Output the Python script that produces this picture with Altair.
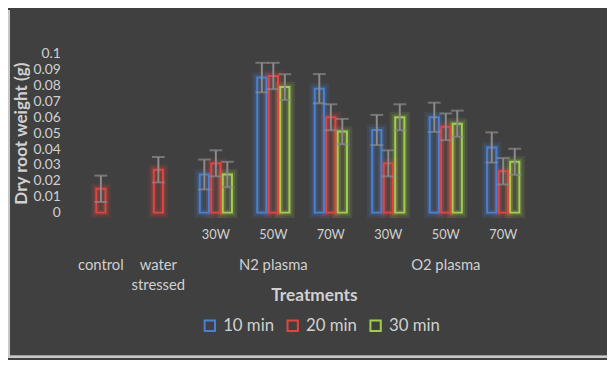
import altair as alt
import pandas as pd

groups = ["control", "water stressed", "N2 plasma", "N2 plasma", "N2 plasma",
          "O2 plasma", "O2 plasma", "O2 plasma"]
subcats = ["", "", "30W", "50W", "70W", "30W", "50W", "70W"]
series = ["10 min", "20 min", "30 min"]
min10 = [None, None, 0.024, 0.085, 0.078, 0.052, 0.060, 0.041]
min20 = [0.015, 0.027, 0.031, 0.086, 0.060, 0.031, 0.054, 0.026]
min30 = [None, None, 0.024, 0.079, 0.051, 0.060, 0.056, 0.032]
err10 = [None, None, 0.0094, 0.0093, 0.0092, 0.0095, 0.0092, 0.0095]
err20 = [0.0083, 0.008, 0.0082, 0.0083, 0.0082, 0.0082, 0.0084, 0.0083]
err30 = [None, None, 0.008, 0.0081, 0.008, 0.0082, 0.0082, 0.0082]
colors = ["#4A80D2", "#E2453F", "#A2CE4E"]
y_ticks = [0, 0.01, 0.02, 0.03, 0.04, 0.05, 0.06, 0.07, 0.08, 0.09, 0.1]

group_labels = ["control", "water\nstressed", "N2 plasma", "O2 plasma"]
group_anchor = ["control|", "water stressed|", "N2 plasma|50W", "O2 plasma|50W"]

rows = []
for vals, errs, s in [(min10, err10, series[0]), (min20, err20, series[1]), (min30, err30, series[2])]:
    for g, sc, v, e in zip(groups, subcats, vals, errs):
        if v is None:
            continue
        rows.append({"cat": f"{g}|{sc}", "series": s, "value": v,
                     "lo": v - e, "hi": v + e})
df = pd.DataFrame(rows)
cat_order = [f"{g}|{s}" for g, s in zip(groups, subcats)]

FONT = "Lato"
LBL = "#D0D0D0"

x_enc = alt.X("cat:N", sort=cat_order,
              scale=alt.Scale(domain=cat_order, paddingInner=0.4, paddingOuter=0.2),
              axis=alt.Axis(labelExpr="split(datum.label, '|')[1]", labelAngle=0,
                            domain=False, ticks=False, labelPadding=16,
                            labelFontSize=13, labelColor=LBL, labelFont=FONT,
                            title="Treatments", titleFont=FONT, titleFontSize=17.5,
                            titleFontWeight="bold", titleColor=LBL,
                            titleX=245, titleY=84, titleAlign="center",
                            titleBaseline="middle", titleAnchor="start"))
xo_enc = alt.XOffset("series:N", sort=series,
                     scale=alt.Scale(domain=series, paddingInner=0.2, paddingOuter=0.1))
y_scale = alt.Scale(domain=[0, 0.1], nice=False)
y_axis = alt.Axis(values=y_ticks, format="~g", labelOverlap=False,
                  domain=False, ticks=False, grid=False, labelPadding=12,
                  labelFontSize=14, labelColor=LBL, labelFont=FONT,
                  title="Dry root weight (g)", titleFont=FONT,
                  titleFontSize=17.3, titleFontWeight="bold",
                  titleColor=LBL, titleX=-51, titleY=80.5, titleAngle=270,
                  titleAlign="center", titleBaseline="middle", titleAnchor="start")
y_enc = alt.Y("value:Q", scale=y_scale, axis=y_axis)
color_enc = alt.Color("series:N", sort=series,
                      scale=alt.Scale(domain=series, range=colors),
                      legend=alt.Legend(title=None, orient="none", direction="horizontal",
                                        legendX=131, legendY=267,
                                        symbolType="square", symbolSize=110,
                                        symbolStrokeWidth=2, symbolFillColor="transparent",
                                        symbolOpacity=1,
                                        labelFont=FONT, labelFontSize=17,
                                        labelColor=LBL, labelOffset=5,
                                        columnPadding=9))

base = alt.Chart(df)
bars = base.mark_bar(filled=False, strokeWidth=2).encode(
    x=x_enc, xOffset=xo_enc, y=y_enc, color=color_enc)
glow1 = base.mark_bar(filled=False, strokeWidth=11, strokeOpacity=0.13).encode(
    x=x_enc, xOffset=xo_enc, y=y_enc, color=color_enc)
glow2 = base.mark_bar(filled=False, strokeWidth=6, strokeOpacity=0.2).encode(
    x=x_enc, xOffset=xo_enc, y=y_enc, color=color_enc)
rules = base.mark_rule(color="#8C8C8C", strokeWidth=2).encode(
    x=x_enc, xOffset=xo_enc, y=alt.Y("lo:Q", scale=y_scale, axis=y_axis), y2="hi:Q")
caps_hi = base.mark_tick(color="#8C8C8C", thickness=2, size=13).encode(
    x=x_enc, xOffset=xo_enc, y=alt.Y("hi:Q", scale=y_scale, axis=y_axis))
caps_lo = base.mark_tick(color="#8C8C8C", thickness=2, size=13).encode(
    x=x_enc, xOffset=xo_enc, y=alt.Y("lo:Q", scale=y_scale, axis=y_axis))

gdf = pd.DataFrame({"cat": group_anchor, "label": group_labels})
glabels = alt.Chart(gdf).mark_text(font=FONT, fontSize=15, color=LBL, baseline="middle",
                                   lineBreak="\n", lineHeight=20).encode(
    x=alt.X("cat:N", sort=cat_order), y=alt.value(214), text="label:N")

frame_left = alt.Chart(gdf).mark_rule(color="#C8C8C8", strokeWidth=2).encode(
    x=alt.value(-64), y=alt.value(-44), y2=alt.value(308))
frame_bottom = alt.Chart(gdf).mark_rule(color="#C8C8C8", strokeWidth=2).encode(
    y=alt.value(307), x=alt.value(-65), x2=alt.value(542))

chart = alt.layer(glow1, glow2, bars, rules, caps_hi, caps_lo, glabels,
                  frame_left, frame_bottom).properties(
    width=466, height=161,
    autosize=alt.AutoSizeParams(type="none"),
    padding={"left": 65, "top": 44, "right": 76, "bottom": 147},
).configure(background="#404040").configure_view(stroke=None)

chart.save("out.html", embed_options={"renderer": "svg", "actions": False})
